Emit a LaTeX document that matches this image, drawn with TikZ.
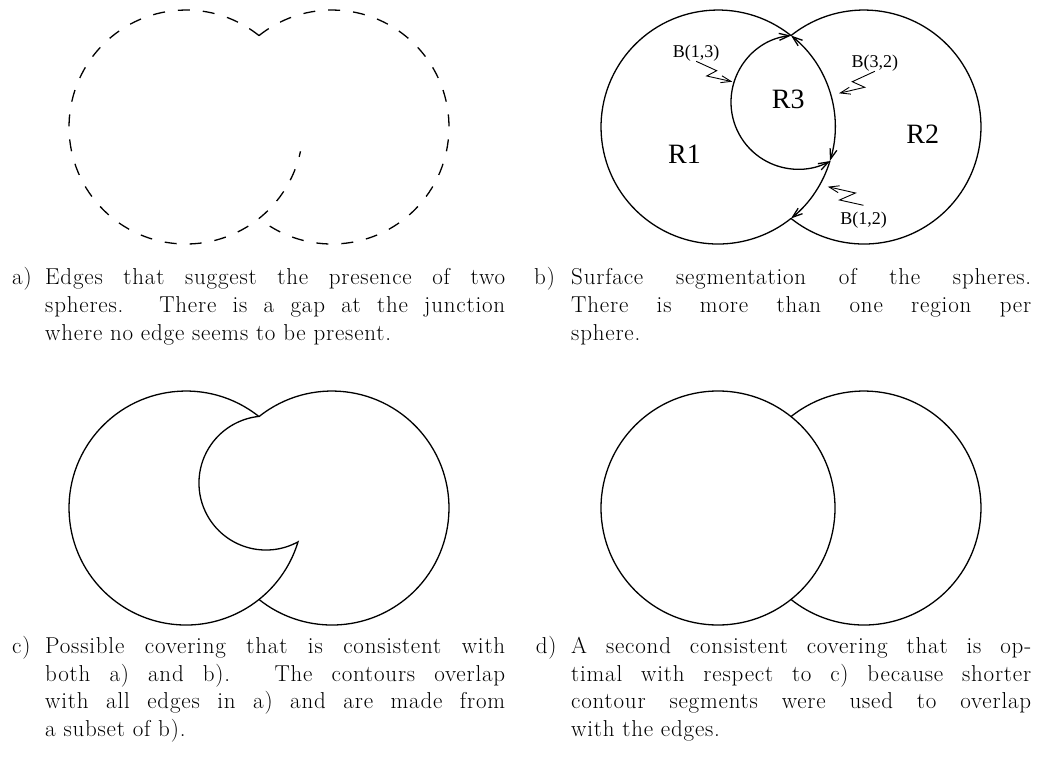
\documentclass[tikz,border=0pt]{standalone}
\usepackage{fontspec}
\newfontfamily\timesf{Liberation Serif}
\newfontfamily\capfont{Latin Modern Roman}[LetterSpace=3.5]
\usetikzlibrary{arrows.meta}
\newcommand\mycapline[1]{\hbox to 460pt{#1}}
\tikzset{
  x=1pt, y=1pt,
  >={Straight Barb[length=10pt,width=7pt]},
  edge/.style={line width=1.3pt},
  dashededge/.style={edge, dash pattern=on 12pt off 13pt},
  zig/.style={line width=0.9pt, ->},
  reg/.style={font=\timesf\fontsize{28}{30}\selectfont, inner sep=0pt, anchor=base},
  blab/.style={font=\timesf\fontsize{18}{20}\selectfont, inner sep=0pt, anchor=base},
  captext/.style={inner sep=0pt, anchor=base west, font=\capfont\fontsize{23}{27.8}\selectfont},
}
\begin{document}
\begin{tikzpicture}
\fill[white] (0,0) rectangle (1048,769);
\useasboundingbox (0,0) rectangle (1048,769);

% ---------- panel a ----------
\coordinate (Ta) at (259,733.4);
\draw[dashededge] (Ta) arc[start angle=51.4, end angle=348, radius=117];
\draw[dashededge] (Ta) arc[start angle=128.6, end angle=-128.6, radius=117];

% ---------- panel b ----------
\coordinate (Tb) at (791,733.4);
\coordinate (Lb) at (830,608.2);
\draw[edge] (Tb) arc[start angle=51.4, end angle=308.6, radius=117];
\draw[edge] (Tb) arc[start angle=128.6, end angle=-128.6, radius=117];
\draw[edge,<->] (Lb) arc[start angle=-16.8, end angle=51.4, radius=117];
\draw[edge,->] (Lb) arc[start angle=-16.8, end angle=-51.4, radius=117];
\draw[edge,<->] (Tb) arc[start angle=96, end angle=298.6, radius=67];

\node[reg] (r1) at (684.5,605.7) {R1};
\node[reg] (r2) at (922.8,625) {R2};
\node[reg] (r3) at (788.2,660) {R3};

\node[blab] (l13) at (696.2,711.7) {B(1,3)};
\node[blab] (l32) at (874.8,701.7) {B(3,2)};
\node[blab] (l12) at (863.5,544) {B(1,2)};
\coordinate (t13) at (732.3,687.3);
\coordinate (t32) at (839,675.7);
\coordinate (t12) at (827.8,582.3);
\draw[zig] (l13.south) -- (716.7,698.3) -- (706.7,693) -- (t13);
\draw[zig] (l32.south) -- (852.3,687.3) -- (864.7,681.7) -- (t32);
\draw[zig] ([yshift=7pt]l12.north) -- (839.5,569) -- (855.5,576) -- (t12);

% ---------- panel c ----------
\coordinate (Tc) at (259,352.4);
\draw[edge] (Tc) arc[start angle=51.4, end angle=343.2, radius=117]
                 arc[start angle=298.6, end angle=96, radius=67];
\draw[edge] (Tc) arc[start angle=128.6, end angle=-128.6, radius=117];

% ---------- panel d ----------
\coordinate (C1d) at (718,261);
\coordinate (Td) at (791,352.4);
\draw[edge] (C1d) circle[radius=117];
\draw[edge] (Td) arc[start angle=128.6, end angle=-128.6, radius=117];

% ---------- captions ----------
\node[captext] (la) at (12,484) {a)};
\node[captext] (ca) at (45,484) {\vtop{\baselineskip=27.8pt
  \mycapline{Edges that suggest the presence of two}
  \mycapline{spheres.  There is a gap at the junction}
  \hbox{where no edge seems to be present.}}};

\node[captext] (lb) at (534,484) {b)};
\node[captext] (cb) at (571,484) {\vtop{\baselineskip=27.8pt
  \mycapline{Surface segmentation of the spheres.}
  \mycapline{There is more than one region per}
  \hbox{sphere.}}};

\node[captext] (lc) at (12,115.7) {c)};
\node[captext] (cc) at (45,115.7) {\vtop{\baselineskip=27.8pt
  \mycapline{Possible covering that is consistent with}
  \mycapline{both a) and b).  The contours overlap}
  \mycapline{with all edges in a) and are made from}
  \hbox{a subset of b).}}};

\node[captext] (ld) at (535.7,115.7) {d)};
\node[captext] (cd) at (571,115.7) {\vtop{\baselineskip=27.8pt
  \mycapline{A second consistent covering that is op-}
  \mycapline{timal with respect to c) because shorter}
  \mycapline{contour segments were used to overlap}
  \hbox{with the edges.}}};
\end{tikzpicture}
\end{document}
